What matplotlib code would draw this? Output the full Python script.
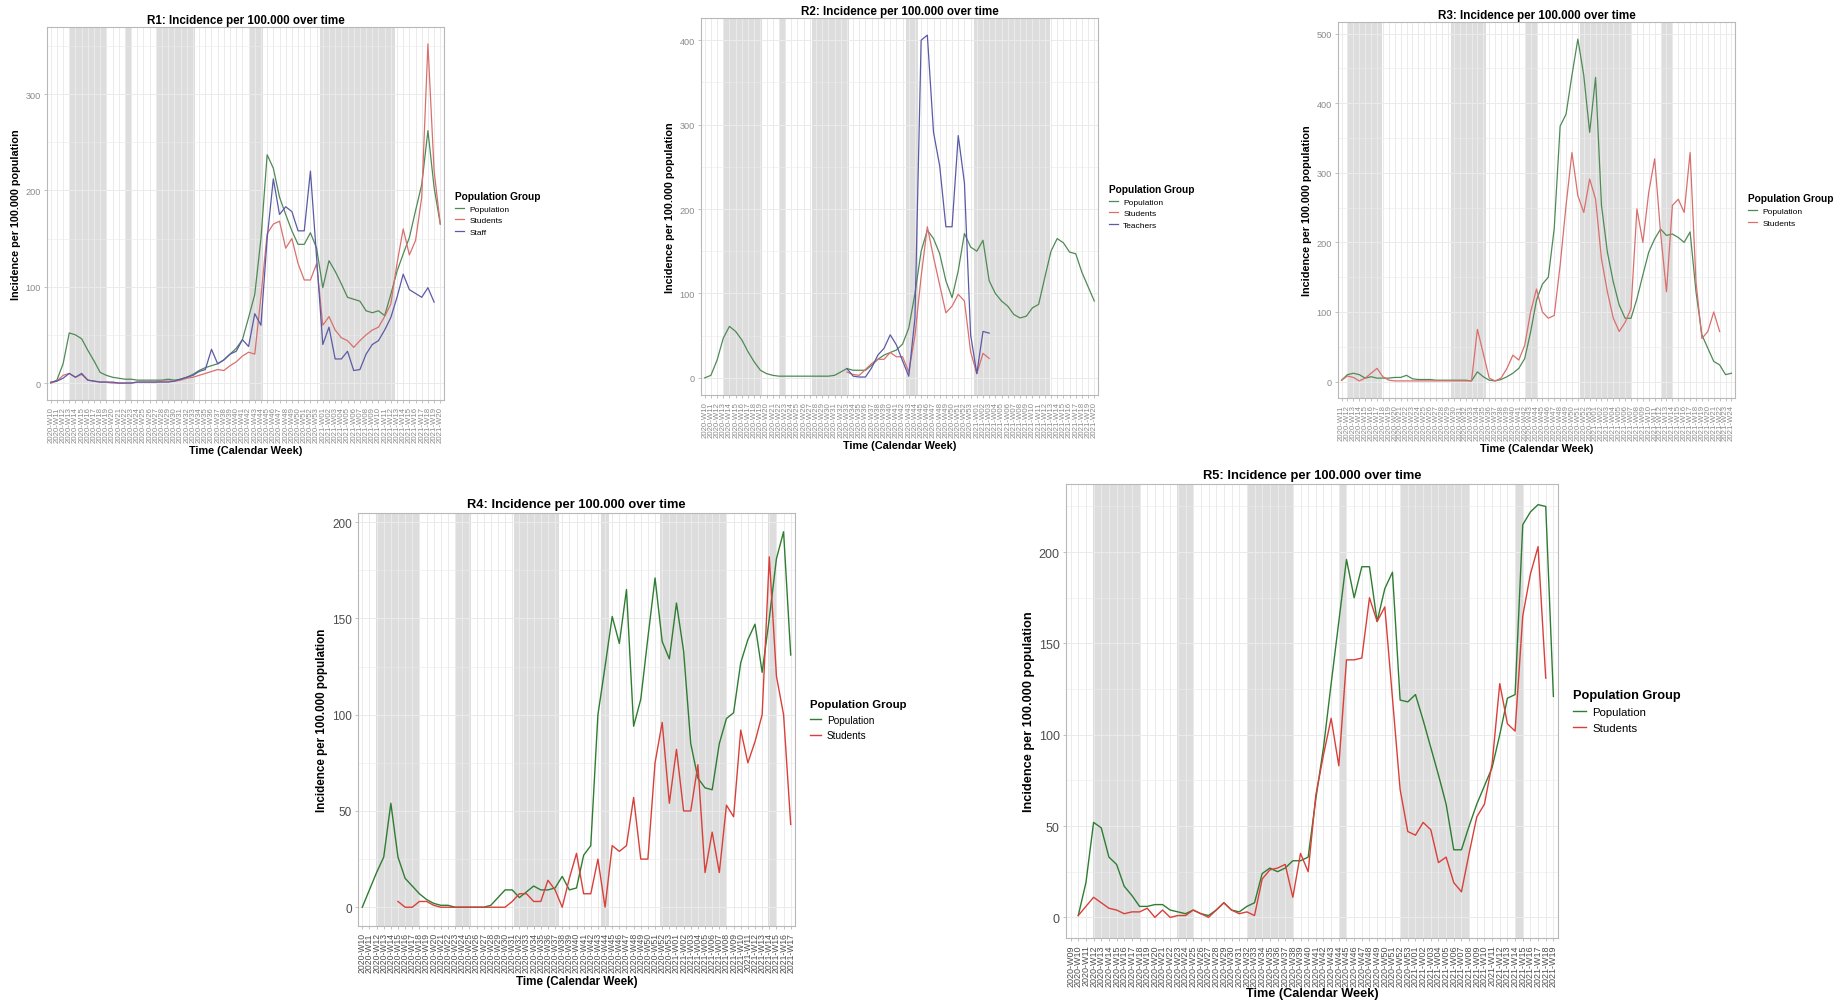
import numpy as np
import matplotlib
matplotlib.use('Agg')
import matplotlib.pyplot as plt

plt.rcParams['font.family'] = ['Liberation Sans', 'DejaVu Sans']
nan = np.nan

# ---------------- categories (ISO calendar weeks) ----------------
def week_labels(y0, w0, n):
    labs, y, w = [], y0, w0
    for _ in range(n):
        labs.append(f"{y}-W{w:02d}")
        w += 1
        if w > (53 if y == 2020 else 52):
            y, w = y + 1, 1
    return labs

R1_weeks = week_labels(2020, 10, 64)
R2_weeks = week_labels(2020, 10, 64)
R3_weeks = week_labels(2020, 11, 67)
R4_weeks = week_labels(2020, 10, 61)
R5_weeks = week_labels(2020, 9, 64)

# ---------------- R1 ----------------
R1_population = [0, 3, 20, 52, 50, 46, 34, 23, 11, 8,
                 6, 5, 4, 4, 3, 3, 3, 3, 3, 4,
                 3, 4, 6, 9, 13, 16, 18, 20, 24, 30,
                 36, 45, 68, 92, 150, 237, 223, 193, 175, 158,
                 144, 144, 156, 140, 99, 127, 116, 103, 89, 87,
                 85, 75, 73, 75, 70, 92, 116, 134, 151, 179,
                 206, 262, 203, 165]
R1_students = [0, 2, 8, 10, 6, 9, 3, 2, 1, 1,
               0, 0, 0, 0, 1, 1, 1, 1, 2, 2,
               2, 3, 5, 6, 8, 10, 12, 14, 13, 18,
               22, 28, 32, 30, 90, 155, 165, 168, 140, 150,
               124, 107, 107, 124, 60, 69, 55, 47, 44, 37,
               44, 50, 55, 58, 69, 82, 124, 160, 133, 148,
               193, 352, 220, 165]
R1_staff = [1, 2, 5, 10, 6, 10, 3, 2, 1, 1,
            1, 0, 0, 0, 1, 1, 1, 1, 1, 1,
            2, 4, 6, 8, 12, 14, 35, 20, 24, 30,
            33, 45, 38, 72, 60, 150, 212, 175, 183, 178,
            158, 158, 220, 130, 40, 58, 25, 25, 33, 13,
            14, 30, 40, 44, 55, 68, 89, 113, 97, 93,
            89, 99, 84, nan]
R1_holidays = [(3.2, 9.1), (12.0, 13.0), (17.2, 23.3), (32.3, 34.4), (43.5, 55.7)]

# ---------------- R2 ----------------
R2_population = [0, 3, 21, 47, 61, 55, 45, 31, 19, 9,
                 5, 3, 2, 2, 2, 2, 2, 2, 2, 2,
                 2, 3, 7, 11, 9, 9, 9, 15, 22, 27,
                 30, 33, 40, 59, 100, 150, 175, 165, 147, 115,
                 95, 127, 171, 155, 150, 163, 115, 100, 91, 85,
                 75, 71, 73, 83, 87, 119, 150, 165, 160, 149,
                 147, 125, 108, 91]
R2_students = [nan] * 23 + [7, 4, 3, 10, 17, 22, 22, 30, 25, 25, 7, 50,
                            120, 179, 143, 110, 77, 85, 99, 91, 31, 5, 29, 23] + [nan] * 17
R2_teachers = [nan] * 23 + [11, 2, 1, 1, 12, 27, 35, 51, 39, 20, 2, 71,
                            400, 406, 291, 251, 179, 179, 287, 231, 51, 5, 55, 53] + [nan] * 17
R2_holidays = [(3.2, 9.2), (12.0, 13.1), (17.4, 23.3), (32.5, 34.5), (43.5, 55.8)]

# ---------------- R3 ----------------
R3_population = [2, 10, 12, 10, 5, 7, 5, 5, 5, 6,
                 6, 9, 4, 3, 3, 3, 2, 2, 2, 2,
                 2, 2, 1, 14, 7, 2, 1, 3, 7, 12,
                 19, 33, 71, 117, 140, 150, 220, 367, 384, 440,
                 492, 440, 358, 437, 253, 186, 143, 110, 91, 91,
                 119, 153, 186, 205, 219, 210, 212, 207, 200, 215,
                 129, 67, 48, 29, 24, 10, 12]
R3_students = [2, 8, 6, 1, 5, 12, 19, 7, 2, 1,
               1, 1, 1, 1, 1, 1, 1, 1, 1, 1,
               1, 1, 1, 75, 40, 5, 1, 5, 19, 38,
               31, 52, 100, 133, 100, 91, 95, 167, 253, 329,
               267, 243, 291, 262, 176, 129, 91, 72, 85, 105,
               248, 200, 272, 320, 214, 129, 253, 262, 243, 329,
               143, 62, 72, 100, 72, nan, nan]
R3_holidays = [(1.0, 6.9), (18.6, 24.5), (31.3, 33.3), (40.3, 49.2), (54.0, 56.1)]

# ---------------- R4 ----------------
R4_population = [0, 9, 18, 26, 54, 26, 15, 11, 7, 4,
                 2, 1, 1, 0, 0, 0, 0, 0, 1, 5,
                 9, 9, 5, 8, 11, 9, 9, 10, 16, 9,
                 10, 27, 32, 100, 125, 151, 137, 165, 94, 108,
                 140, 171, 138, 129, 158, 133, 85, 67, 62, 61,
                 85, 98, 101, 127, 139, 147, 122, 150, 181, 195,
                 131]
R4_students = [nan] * 5 + [3, 0, 0, 3, 3, 1, 0, 0, 0, 0, 0, 0, 0, 0, 0, 0,
                           3, 7, 7, 3, 3, 14, 9, 0, 15, 28,
                           7, 7, 25, 0, 32, 29, 32, 57, 25, 25,
                           75, 96, 54, 82, 50, 50, 74, 18, 39, 18,
                           53, 47, 92, 75, 86, 100, 182, 120, 100, 43]
R4_holidays = [(1.9, 8.0), (13.1, 15.2), (21.3, 27.5), (33.4, 34.6), (41.7, 50.9), (56.8, 57.9)]

# ---------------- R5 ----------------
R5_population = [nan, 1, 19, 52, 49, 33, 29, 17, 12, 6,
                 6, 7, 7, 4, 3, 2, 4, 2, 1, 4,
                 8, 4, 3, 6, 8, 24, 27, 25, 27, 31,
                 31, 33, 65, 93, 128, 162, 196, 175, 192, 192,
                 162, 180, 189, 119, 118, 122, 108, 93, 78, 62,
                 37, 37, 50, 62, 72, 82, 100, 120, 122, 215,
                 222, 226, 225, 121]
R5_students = [nan, 1, 6, 11, 8, 5, 4, 2, 3, 3,
               5, 0, 4, 0, 1, 1, 4, 2, 0, 4,
               8, 4, 2, 3, 1, 21, 26, 27, 29, 11,
               35, 25, 67, 89, 109, 83, 141, 141, 142, 175,
               162, 170, 120, 70, 47, 45, 52, 48, 30, 33,
               19, 14, 35, 55, 62, 84, 128, 106, 102, 165,
               188, 203, 131, nan]
R5_holidays = [(2.9, 9.0), (13.9, 16.0), (23.0, 29.0), (35.0, 36.0), (43.1, 52.1), (58.1, 59.1)]

# ---------------- styling ----------------
W, H = 1841, 1004
fig = plt.figure(figsize=(W / 100, H / 100), dpi=100)
fig.patch.set_facecolor('white')

SHADE = '#dddddd'
GRIDC = '#ebebeb'
BORDER = '#b8b8b8'

TOP = dict(lw=0.9, xt=5.6, yt=6.6, ti=8.4, ax=7.8, lh=7.3, lt=6.0, tc='#8a8a8a', tpad=3,
           ls=0.45, xpad=2)
R4S = dict(lw=1.0, xt=6.2, yt=8.5, ti=9.3, ax=8.4, lh=8.2, lt=7.2, tc='#4d4d4d', tpad=4,
           ls=0.55, xpad=2)
R5S = dict(lw=1.0, xt=6.5, yt=9.0, ti=9.3, ax=9.2, lh=9.2, lt=8.2, tc='#4d4d4d', tpad=4,
           ls=0.5, xpad=0.5)

G_TOP, R_TOP, B_TOP = '#4f8a55', '#d9706e', '#5a5aa8'
G_BOT, R_BOT = '#2f7d32', '#d9403a'


def draw(rect, cats, series, shades, yticks, title, legend_x, sz):
    l, t, r, b = rect
    ax = fig.add_axes([l / W, 1 - b / H, (r - l) / W, (b - t) / H])
    n = len(cats)
    xs = np.arange(n)
    for s0, s1 in shades:
        ax.axvspan(s0, s1, color=SHADE, lw=0, zorder=0.2)
    handles = []
    for name, vals, col in series:
        h, = ax.plot(xs, np.asarray(vals, float), color=col, lw=sz['lw'],
                     zorder=3, label=name, solid_joinstyle='round')
        handles.append(h)
    allv = np.concatenate([np.asarray(v, float) for _, v, _ in series])
    lo, hi = np.nanmin(allv), np.nanmax(allv)
    pad = 0.05 * (hi - lo)
    ax.set_xticks(xs)
    ax.set_xticklabels(cats, rotation=90, fontsize=sz['xt'], color=sz['tc'])
    ax.set_yticks(yticks)
    ax.set_yticklabels([str(v) for v in yticks], fontsize=sz['yt'], color=sz['tc'])
    step = yticks[1] - yticks[0]
    minor = [v + step / 2 for v in yticks if v + step / 2 < hi + pad]
    ax.set_yticks(minor, minor=True)
    ax.set_ylim(lo - pad, hi + pad)
    ax.set_xlim(-0.6, n - 0.4)
    ax.tick_params(axis='y', which='minor', length=0)
    ax.tick_params(which='major', length=2.5, width=0.6, color=BORDER, pad=2)
    ax.grid(True, which='major', color=GRIDC, lw=0.7)
    ax.grid(True, which='minor', axis='y', color=GRIDC, lw=0.4)
    ax.set_axisbelow(True)
    for s in ax.spines.values():
        s.set_color(BORDER)
        s.set_linewidth(0.8)
    ax.set_title(title, fontsize=sz['ti'], fontweight='bold', pad=sz['tpad'])
    ax.set_xlabel('Time (Calendar Week)', fontsize=sz['ax'], fontweight='bold',
                  labelpad=sz['xpad'])
    ax.set_ylabel('Incidence per 100.000 population', fontsize=sz['ax'],
                  fontweight='bold', labelpad=3)
    ax.legend(handles=handles, loc='center left',
              bbox_to_anchor=(legend_x / W, 1 - (t + b) / 2 / H),
              bbox_transform=fig.transFigure, frameon=False,
              title='Population Group', fontsize=sz['lt'],
              title_fontproperties={'weight': 'bold', 'size': sz['lh']},
              handlelength=1.1, handletextpad=0.6, labelspacing=sz['ls'],
              borderpad=0, borderaxespad=0, alignment='left')
    return ax


draw((47, 28, 444, 401), R1_weeks,
     [('Population', R1_population, G_TOP), ('Students', R1_students, R_TOP),
      ('Staff', R1_staff, B_TOP)],
     R1_holidays, [0, 100, 200, 300], 'R1: Incidence per 100.000 over time', 455, TOP)

draw((701, 19, 1098, 396), R2_weeks,
     [('Population', R2_population, G_TOP), ('Students', R2_students, R_TOP),
      ('Teachers', R2_teachers, B_TOP)],
     R2_holidays, [0, 100, 200, 300, 400], 'R2: Incidence per 100.000 over time', 1109, TOP)

draw((1338, 23, 1735, 399), R3_weeks,
     [('Population', R3_population, G_TOP), ('Students', R3_students, R_TOP)],
     R3_holidays, [0, 100, 200, 300, 400, 500], 'R3: Incidence per 100.000 over time', 1748, TOP)

draw((358, 514, 795, 927), R4_weeks,
     [('Population', R4_population, G_BOT), ('Students', R4_students, R_BOT)],
     R4_holidays, [0, 50, 100, 150, 200], 'R4: Incidence per 100.000 over time', 810, R4S)

draw((1066, 485, 1558, 939), R5_weeks,
     [('Population', R5_population, G_BOT), ('Students', R5_students, R_BOT)],
     R5_holidays, [0, 50, 100, 150, 200], 'R5: Incidence per 100.000 over time', 1573, R5S)

fig.savefig('out.png', dpi=100, facecolor='white')
